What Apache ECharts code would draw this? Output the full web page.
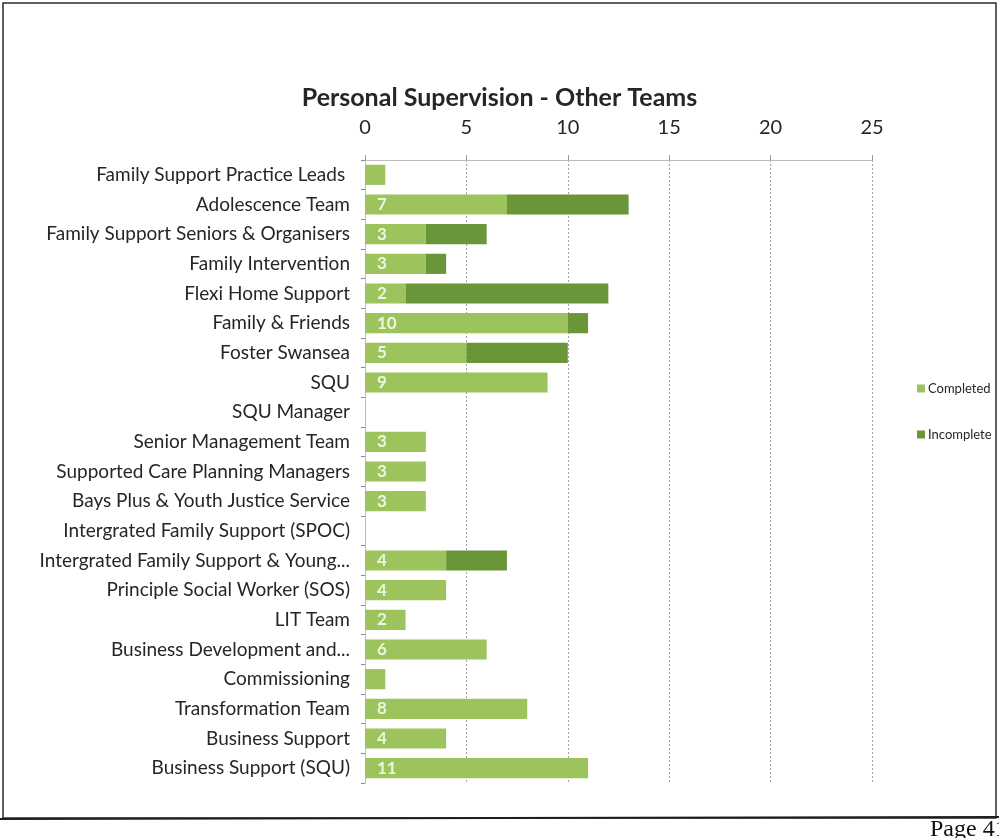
<!DOCTYPE html>
<html>
<head>
<meta charset="utf-8">
<script src="https://cdn.jsdelivr.net/npm/echarts@6/dist/echarts.min.js"></script>
<style>
  html, body { margin: 0; padding: 0; background: #fff; }
  #chart { width: 999px; height: 838px; }
</style>
</head>
<body>
<div id="chart"></div>
<script>
// Team names, top to bottom
const teams = [
  'Family Support Practice Leads ',
  'Adolescence Team',
  'Family Support Seniors & Organisers',
  'Family Intervention',
  'Flexi Home Support',
  'Family & Friends',
  'Foster Swansea',
  'SQU',
  'SQU Manager',
  'Senior Management Team',
  'Supported Care Planning Managers',
  'Bays Plus & Youth Justice Service',
  'Intergrated Family Support (SPOC)',
  'Intergrated Family Support & Young...',
  'Principle Social Worker (SOS)',
  'LIT Team',
  'Business Development and...',
  'Commissioning',
  'Transformation Team',
  'Business Support',
  'Business Support (SQU)'
];

// Supervision counts per team
const completed  = [1, 7, 3, 3, 2, 10, 5, 9, 0, 3, 3, 3, 0, 4, 4, 2, 6, 1, 8, 4, 11];
const incomplete = [0, 6, 3, 1, 10, 1, 5, 0, 0, 0, 0, 0, 0, 3, 0, 0, 0, 0, 0, 0, 0];

// Value axis ticks
const xTicks = [0, 5, 10, 15, 20, 25];

const FONT = 'Lato, "Open Sans", sans-serif';

const chart = echarts.init(document.getElementById('chart'), null, { renderer: 'canvas' });

chart.setOption({
  backgroundColor: '#ffffff',
  animation: false,
  title: {
    text: 'Personal Supervision - Other Teams',
    left: 'center',
    top: 80,
    textStyle: { fontFamily: FONT, fontSize: 25, fontWeight: 'bold', color: '#262626' }
  },
  legend: {
    orient: 'vertical',
    left: 912,
    top: 377,
    itemWidth: 8,
    itemHeight: 8,
    itemGap: 33,
    icon: 'rect',
    textStyle: { fontFamily: FONT, fontSize: 13, color: '#262626', padding: [0, 0, 0, -2] },
    data: ['Completed', 'Incomplete']
  },
  grid: { left: 365, right: 999 - 872, top: 160, bottom: 55, containLabel: false },
  xAxis: {
    type: 'value',
    position: 'top',
    min: xTicks[0],
    max: xTicks[xTicks.length - 1],
    interval: 5,
    axisLine: { show: true, lineStyle: { color: '#bdbdbd', width: 1 } },
    axisTick: { show: true, length: 5, lineStyle: { color: '#9a9a9a' } },
    axisLabel: { fontFamily: FONT, fontSize: 20, color: '#262626', margin: 22 },
    splitLine: { show: true, lineStyle: { color: '#a0a0a0', type: [2, 2], width: 1 } }
  },
  yAxis: {
    type: 'category',
    inverse: true,
    data: teams,
    axisLine: { show: true, lineStyle: { color: '#bdbdbd', width: 1 } },
    axisTick: { show: true, length: 4, lineStyle: { color: '#8a8a8a' } },
    axisLabel: { fontFamily: FONT, fontSize: 19, color: '#262626', margin: 15 }
  },
  series: [
    {
      name: 'Completed',
      type: 'bar',
      stack: 'total',
      barWidth: '68%',
      data: completed,
      itemStyle: { color: '#9cc35c' },
      label: {
        show: true,
        position: 'insideLeft',
        distance: 12,
        fontFamily: FONT,
        fontSize: 17,
        fontWeight: 'bold',
        color: '#eef5e2',
        formatter: p => (p.value >= 2 ? String(p.value) : '')
      }
    },
    {
      name: 'Incomplete',
      type: 'bar',
      stack: 'total',
      barWidth: '68%',
      data: incomplete,
      itemStyle: { color: '#6a9539' }
    }
  ],
  graphic: [
    {
      type: 'rect',
      shape: { x: 3, y: 3, width: 993, height: 815 },
      style: { fill: 'none', stroke: '#2b2b2b', lineWidth: 1.5 },
      silent: true
    },
    {
      type: 'line',
      shape: { x1: 0, y1: 819, x2: 999, y2: 817 },
      style: { stroke: '#1e1e1e', lineWidth: 2 },
      silent: true
    },
    {
      type: 'text',
      left: 930,
      top: 818,
      style: { text: 'Page 41', font: '24px "Liberation Serif", "DejaVu Serif", serif', fill: '#111' },
      silent: true
    }
  ]
});
</script>
</body>
</html>
